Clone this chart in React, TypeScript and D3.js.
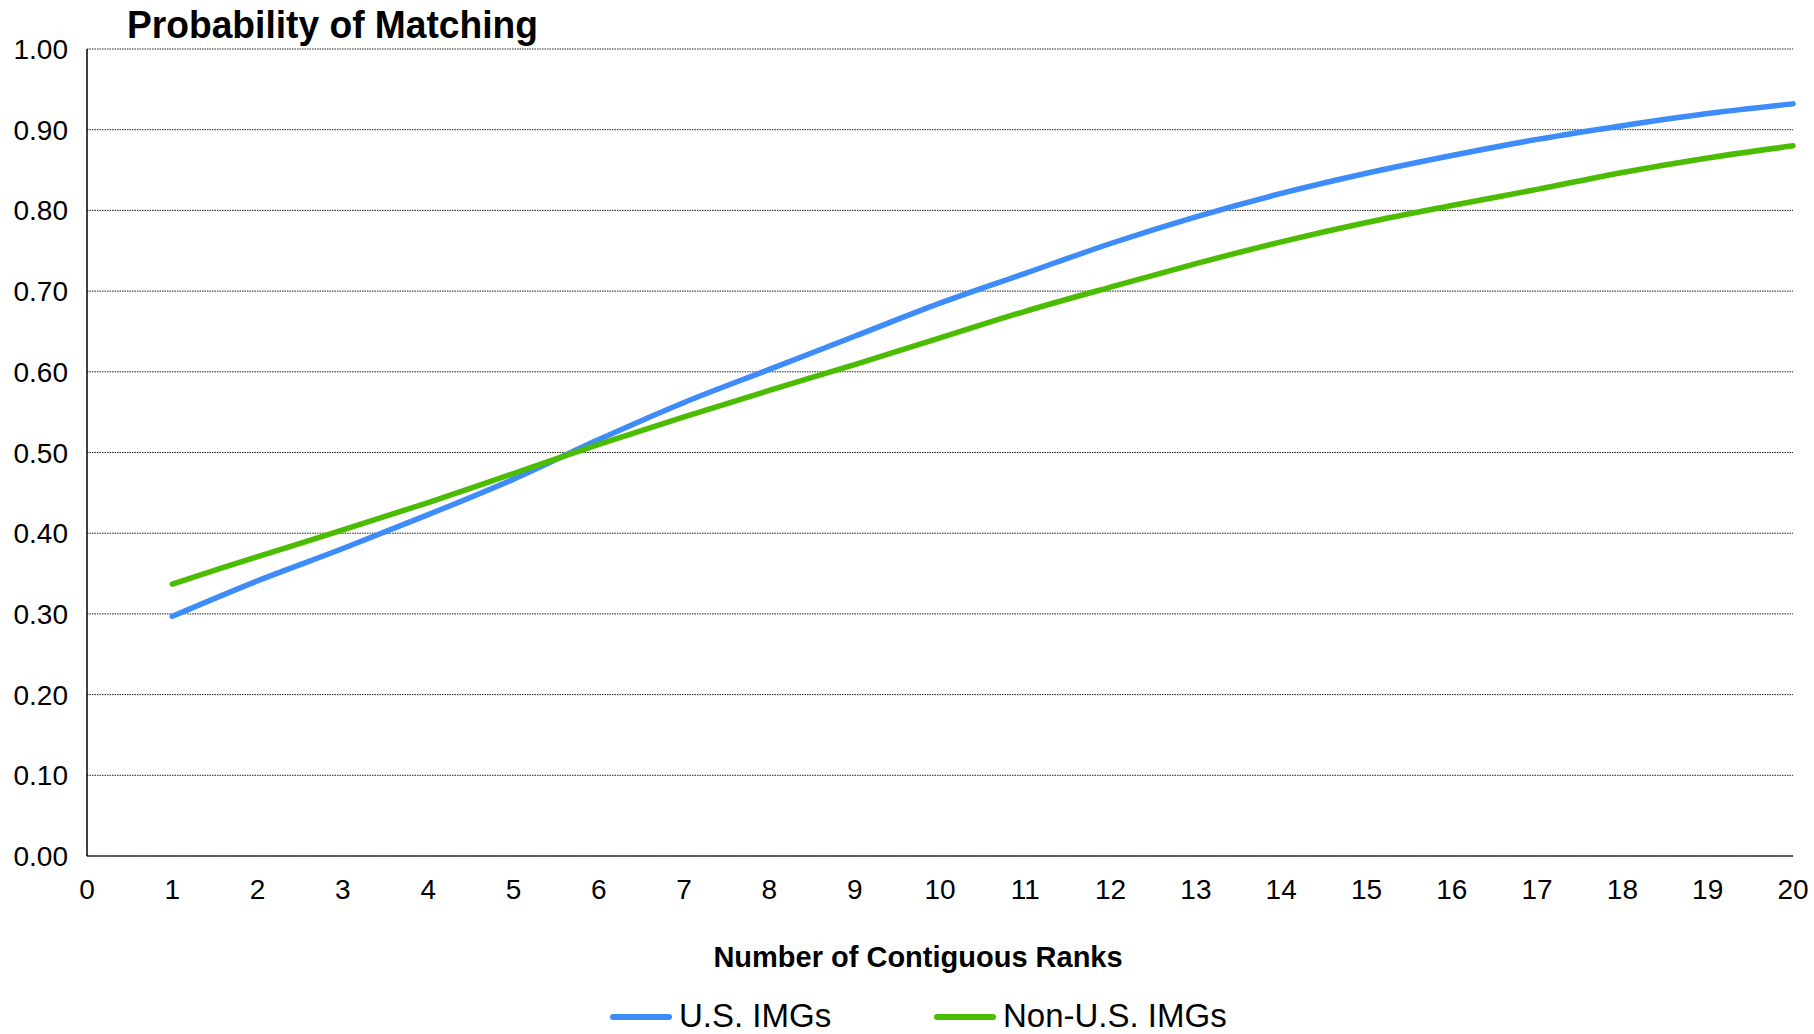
import React, { useEffect, useRef } from "react";
import * as d3 from "d3";

// number of contiguous ranks
const ranks = [1, 2, 3, 4, 5, 6, 7, 8, 9, 10, 11, 12, 13, 14, 15, 16, 17, 18, 19, 20];
const usImgs = [0.297, 0.341, 0.381, 0.423, 0.467, 0.516, 0.562, 0.603, 0.644, 0.685, 0.722, 0.759, 0.792, 0.821, 0.846, 0.868, 0.888, 0.905, 0.920, 0.932];
const nonUsImgs = [0.337, 0.371, 0.404, 0.438, 0.474, 0.510, 0.544, 0.577, 0.609, 0.642, 0.675, 0.705, 0.734, 0.761, 0.785, 0.806, 0.826, 0.847, 0.865, 0.880];
const yTicks = [0, 0.1, 0.2, 0.3, 0.4, 0.5, 0.6, 0.7, 0.8, 0.9, 1.0];
const xTicks = d3.range(0, 21);

const seriesNames = ["U.S. IMGs", "Non-U.S. IMGs"];
const seriesColors = ["#3d8cfa", "#4cbc00"];

const App = () => {
    const ref = useRef(null);

    useEffect(() => {
        const W = 1814, H = 1034;
        const margin = { top: 49, right: 21, bottom: 178, left: 87 };
        const w = W - margin.left - margin.right,
            h = H - margin.top - margin.bottom;

        const svg = d3.select(ref.current).attr("width", W).attr("height", H);
        svg.selectAll("*").remove();
        const g = svg.append("g").attr("transform", `translate(${margin.left}, ${margin.top})`);
        const font = "'Liberation Sans', Arial, sans-serif";

        const x = d3.scaleLinear().domain([0, 20]).range([0, w]);
        const y = d3.scaleLinear().domain([0, 1]).range([h, 0]);

        // gridlines (dotted)
        g.selectAll(".grid").data(yTicks).join("line").attr("class", "grid")
            .attr("x1", 0).attr("x2", w)
            .attr("y1", d => y(d)).attr("y2", d => y(d))
            .attr("stroke", "#222").attr("stroke-width", 1)
            .attr("stroke-dasharray", "1.5,1");

        // axis lines
        g.append("line").attr("x1", 0).attr("x2", 0).attr("y1", 0).attr("y2", h)
            .attr("stroke", "#000").attr("stroke-width", 1.5);
        g.append("line").attr("x1", 0).attr("x2", w).attr("y1", h).attr("y2", h)
            .attr("stroke", "#000").attr("stroke-width", 1);

        // y tick labels
        g.selectAll(".ylab").data(yTicks).join("text").attr("class", "ylab")
            .attr("x", -19).attr("y", d => y(d) + 10)
            .attr("text-anchor", "end")
            .style("font-family", font).style("font-size", "28px")
            .text(d => d3.format(".2f")(d));

        // x tick labels
        g.selectAll(".xlab").data(xTicks).join("text").attr("class", "xlab")
            .attr("x", d => x(d)).attr("y", h + 43)
            .attr("text-anchor", "middle")
            .style("font-family", font).style("font-size", "28px")
            .text(d => d);

        // lines
        const line = d3.line()
            .x((d, i) => x(ranks[i]))
            .y(d => y(d))
            .curve(d3.curveCatmullRom.alpha(0.5));

        [usImgs, nonUsImgs].forEach((vals, k) => {
            g.append("path").datum(vals)
                .attr("d", line)
                .attr("fill", "none")
                .attr("stroke", seriesColors[k])
                .attr("stroke-width", 5.5)
                .attr("stroke-linecap", "round")
                .attr("stroke-linejoin", "round");
        });

        // title
        svg.append("text").attr("x", 127).attr("y", 38)
            .attr("textLength", 411).attr("lengthAdjust", "spacingAndGlyphs")
            .style("font-family", font).style("font-size", "38px").style("font-weight", "bold")
            .text("Probability of Matching");

        // x axis title
        svg.append("text").attr("x", 918).attr("y", 967)
            .attr("text-anchor", "middle")
            .style("font-family", font).style("font-size", "29px").style("font-weight", "bold")
            .text("Number of Contiguous Ranks");

        // legend
        const legendX = [613, 937];
        seriesNames.forEach((name, k) => {
            svg.append("line")
                .attr("x1", legendX[k]).attr("x2", legendX[k] + 56)
                .attr("y1", 1017).attr("y2", 1017)
                .attr("stroke", seriesColors[k]).attr("stroke-width", 6)
                .attr("stroke-linecap", "round");
            svg.append("text").attr("x", legendX[k] + 66).attr("y", 1027)
                .style("font-family", font).style("font-size", "33px")
                .text(name);
        });
    }, []);

    return (
        <svg ref={ref} style={{ position: "absolute", left: 0, top: 0, background: "#fff" }}></svg>
    );
};

export default App;
